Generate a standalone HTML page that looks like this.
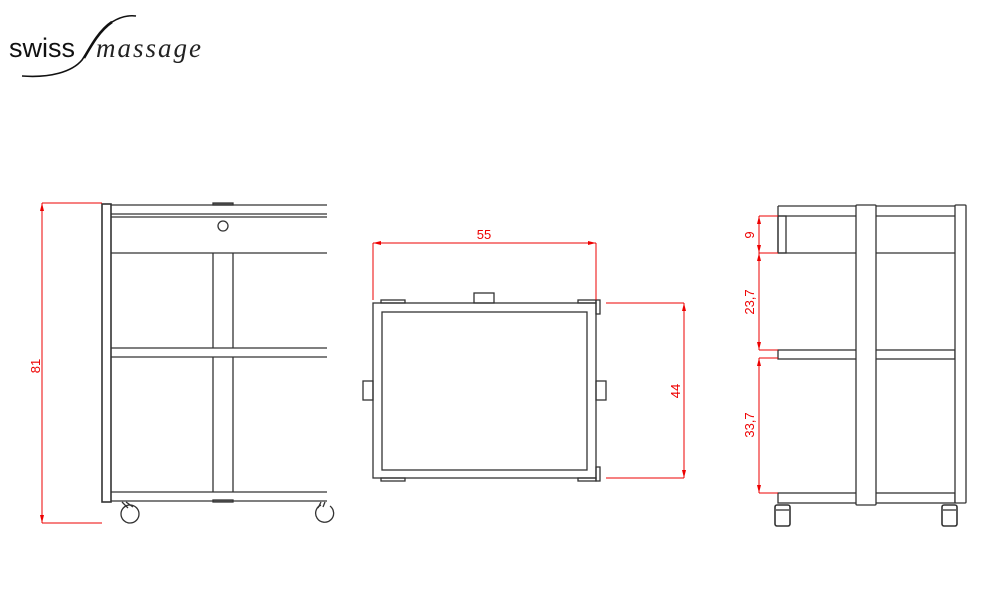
<!DOCTYPE html>
<html><head><meta charset="utf-8"><style>
html,body{margin:0;padding:0;background:#fff;width:1000px;height:600px;overflow:hidden}
svg{display:block}
</style></head><body>
<svg width="1000" height="600" viewBox="0 0 1000 600" xmlns="http://www.w3.org/2000/svg">
<!-- logo -->
<text x="9" y="57" font-family="Liberation Sans, sans-serif" font-size="27" fill="#111">swiss</text>
<path d="M22 76 C50 78,72 72,82 60 C92 45,100 30,112 22 C120 17,128 15,136 16" stroke="#111" stroke-width="1.6" fill="none"/>
<path d="M84 58 C92 44,100 30,112 22" stroke="#111" stroke-width="2.6" fill="none"/>
<text x="96" y="57" font-family="Liberation Serif, serif" font-style="italic" font-size="27" letter-spacing="2" fill="#222">massage</text>

<g stroke="#333" stroke-width="1.3" fill="none">
<!-- LEFT VIEW -->
<rect x="102" y="204" width="9" height="298" fill="#fff" stroke-width="1.6"/>
<line x1="111" y1="205" x2="327" y2="205"/>
<line x1="111" y1="214" x2="327" y2="214"/>
<line x1="111" y1="217" x2="327" y2="217"/>
<line x1="111" y1="253" x2="327" y2="253"/>
<rect x="213" y="203" width="20" height="2" fill="#666"/>
<circle cx="223" cy="226" r="5"/>
<line x1="213" y1="253" x2="213" y2="348"/>
<line x1="233" y1="253" x2="233" y2="348"/>
<line x1="111" y1="348" x2="327" y2="348"/>
<line x1="111" y1="357" x2="327" y2="357"/>
<line x1="213" y1="357" x2="213" y2="492"/>
<line x1="233" y1="357" x2="233" y2="492"/>
<line x1="111" y1="492" x2="327" y2="492"/>
<line x1="111" y1="501" x2="327" y2="501"/>
<rect x="213" y="500" width="20" height="2" fill="#666"/>
<circle cx="130" cy="514" r="9"/>
<path d="M122 502 L128 508 M126 502 L133 507"/>
<path d="M321 505 A9 9 0 1 0 330 506"/>
<path d="M321 502 L318 508 M325 502 L323 507"/>

<!-- MIDDLE VIEW -->
<rect x="373" y="303" width="223" height="175"/>
<rect x="382" y="312" width="205" height="158"/>
<rect x="474" y="293" width="20" height="10"/>
<rect x="363" y="381" width="10" height="19"/>
<rect x="596" y="381" width="10" height="19"/>
<rect x="381" y="300" width="24" height="3"/>
<rect x="578" y="300" width="18" height="3"/>
<rect x="381" y="478" width="24" height="3"/>
<rect x="578" y="478" width="18" height="3"/>
<rect x="596" y="300" width="4" height="14"/>
<rect x="596" y="467" width="4" height="14"/>

<!-- RIGHT VIEW -->
<line x1="778" y1="206" x2="955" y2="206"/>
<line x1="778" y1="216" x2="955" y2="216"/>
<line x1="778" y1="206" x2="778" y2="253"/>
<rect x="778" y="216" width="8" height="37"/>
<line x1="778" y1="253" x2="955" y2="253"/>
<rect x="778" y="350" width="177" height="9"/>
<rect x="778" y="493" width="177" height="10"/>
<rect x="856" y="205" width="20" height="300" rx="1" fill="#fff"/>
<rect x="955" y="205" width="11" height="298" rx="1" fill="#fff"/>
<rect x="775" y="505" width="15" height="21" rx="2" stroke-width="1.6"/>
<rect x="942" y="505" width="15" height="21" rx="2" stroke-width="1.6"/>
<line x1="776" y1="510" x2="789" y2="510"/>
<line x1="943" y1="510" x2="956" y2="510"/>
</g>

<!-- DIMENSIONS -->
<g stroke="#e00" stroke-width="1" fill="none">
<line x1="42" y1="203" x2="42" y2="523"/>
<line x1="42" y1="203" x2="102" y2="203"/>
<line x1="42" y1="523" x2="102" y2="523"/>
<line x1="373" y1="243" x2="596" y2="243"/>
<line x1="373" y1="243" x2="373" y2="300"/>
<line x1="596" y1="243" x2="596" y2="300"/>
<line x1="684" y1="303" x2="684" y2="478"/>
<line x1="606" y1="303" x2="684" y2="303"/>
<line x1="606" y1="478" x2="684" y2="478"/>
<line x1="759" y1="216" x2="759" y2="350"/>
<line x1="759" y1="358" x2="759" y2="493"/>
<line x1="759" y1="216" x2="778" y2="216"/>
<line x1="759" y1="253" x2="778" y2="253"/>
<line x1="759" y1="350" x2="778" y2="350"/>
<line x1="759" y1="358" x2="778" y2="358"/>
<line x1="759" y1="493" x2="778" y2="493"/>
</g>
<g fill="#e00">
<path d="M42 203 l-2 8 h4z"/><path d="M42 523 l-2 -8 h4z"/>
<path d="M373 243 l8 -2 v4z"/><path d="M596 243 l-8 -2 v4z"/>
<path d="M684 303 l-2 8 h4z"/><path d="M684 478 l-2 -8 h4z"/>
<path d="M759 216 l-2 8 h4z"/><path d="M759 253 l-2 -8 h4z"/>
<path d="M759 253 l-2 8 h4z"/><path d="M759 350 l-2 -8 h4z"/>
<path d="M759 358 l-2 8 h4z"/><path d="M759 493 l-2 -8 h4z"/>
</g>
<g font-family="Liberation Sans, sans-serif" font-size="13" fill="#e00" text-anchor="middle">
<text x="484" y="239">55</text>
<text transform="translate(40,366) rotate(-90)">81</text>
<text transform="translate(680,391) rotate(-90)">44</text>
<text transform="translate(754,235) rotate(-90)">9</text>
<text transform="translate(754,302) rotate(-90)">23,7</text>
<text transform="translate(754,425) rotate(-90)">33,7</text>
</g>
</svg>
</body></html>
